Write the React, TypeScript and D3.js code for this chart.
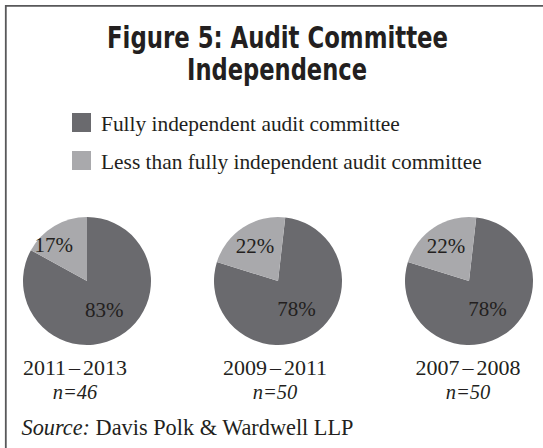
import { useEffect, useRef } from 'react';
import { select, pie, arc, scalePoint } from 'd3';

const periods = ['2011–2013', '2009–2011', '2007–2008'];
const sampleSizes = [46, 50, 50];
const fullyIndependent = [83, 78, 78];
const lessThanFully = [17, 22, 22];
const seriesNames = [
  'Fully independent audit committee',
  'Less than fully independent audit committee',
];
const seriesColors = ['#6a6a6e', '#a9a9ac'];
// rotation of each pie (degrees) as printed in the original
const pieRotation = [0, 6.5, 6.5];
const lightLabelNudge = [-12, 0, 0];
const periodLabelNudge = [-12, -3, -1];

const W = 543;
const H = 448;
const serif = "'Liberation Serif', 'Times New Roman', Times, serif";
const ink = '#231f20';

const App = () => {
  const svgRef = useRef<SVGSVGElement>(null);

  useEffect(() => {
    if (!svgRef.current) return;
    const svg = select(svgRef.current);
    svg.selectAll('*').remove();

    // frame: top and left rules only
    svg
      .append('path')
      .attr('d', `M5.8,${H} V5.8 H${W}`)
      .attr('fill', 'none')
      .attr('stroke', '#58585a')
      .attr('stroke-width', 1.8);

    // title
    const title = svg
      .append('g')
      .attr('font-family', "'Liberation Sans Narrow', 'DejaVu Sans Condensed', 'Roboto Condensed', Arial, sans-serif")
      .attr('font-weight', 'bold')
      .attr('font-size', 31)
      .attr('fill', ink)
      .attr('text-anchor', 'middle');
    title
      .append('text')
      .attr('x', 277.5)
      .attr('y', 47.5)
      .attr('textLength', 341)
      .attr('lengthAdjust', 'spacingAndGlyphs')
      .text('Figure 5: Audit Committee');
    title
      .append('text')
      .attr('x', 277)
      .attr('y', 80)
      .attr('textLength', 180)
      .attr('lengthAdjust', 'spacingAndGlyphs')
      .text('Independence');

    // legend
    const legend = svg
      .append('g')
      .selectAll('g')
      .data(seriesNames)
      .join('g')
      .attr('transform', (_, i) => `translate(72, ${113 + i * 38})`);
    legend
      .append('rect')
      .attr('width', 19)
      .attr('height', 19)
      .attr('fill', (_, i) => seriesColors[i]);
    legend
      .append('text')
      .attr('x', 29)
      .attr('y', 18)
      .attr('font-family', serif)
      .attr('font-size', 21.4)
      .attr('fill', ink)
      .text((d) => d);

    // pies
    const x = scalePoint<string>().domain(periods).range([87, 469]);
    const cy = 281;
    const r = 64;
    const arcGen = arc<any>().innerRadius(0).outerRadius(r);
    const darkLabelArc = arc<any>().innerRadius(34).outerRadius(34);
    const lightLabelArc = arc<any>().innerRadius(42).outerRadius(42);

    periods.forEach((p, i) => {
      const start = (pieRotation[i] * Math.PI) / 180;
      const slices = pie<number>()
        .sort(null)
        .value((d) => d)
        .startAngle(start)
        .endAngle(start + Math.PI * 2)([fullyIndependent[i], lessThanFully[i]]);

      const g = svg
        .append('g')
        .attr('transform', `translate(${x(p)}, ${cy})`);

      g.selectAll('path')
        .data(slices)
        .join('path')
        .attr('d', arcGen)
        .attr('fill', (_, j) => seriesColors[j]);

      g.selectAll('text.pct')
        .data(slices)
        .join('text')
        .attr('class', 'pct')
        .attr('x', (d, j) =>
          j === 0 ? darkLabelArc.centroid(d)[0] : lightLabelArc.centroid(d)[0] + lightLabelNudge[i],
        )
        .attr('y', (d, j) =>
          (j === 0 ? darkLabelArc.centroid(d)[1] : lightLabelArc.centroid(d)[1]) + 7,
        )
        .attr('text-anchor', 'middle')
        .attr('font-family', serif)
        .attr('font-size', 21)
        .attr('fill', ink)
        .text((d) => `${d.data}%`);

      // period label and sample size
      const [a, b] = p.split('–');
      const lx = x(p)! + periodLabelNudge[i];
      const lbl = svg
        .append('text')
        .attr('x', lx)
        .attr('y', 375)
        .attr('text-anchor', 'middle')
        .attr('font-family', serif)
        .attr('font-size', 22)
        .attr('fill', ink);
      lbl.append('tspan').text(a);
      lbl.append('tspan').attr('dx', 3).text('–');
      lbl.append('tspan').attr('dx', 3).text(b);

      svg
        .append('text')
        .attr('x', lx)
        .attr('y', 399)
        .attr('text-anchor', 'middle')
        .attr('font-family', serif)
        .attr('font-style', 'italic')
        .attr('font-size', 20.5)
        .attr('fill', ink)
        .text(`n=${sampleSizes[i]}`);
    });

    // source note
    const src = svg
      .append('text')
      .attr('x', 21.5)
      .attr('y', 435)
      .attr('font-family', serif)
      .attr('font-size', 22.3)
      .attr('fill', ink);
    src.append('tspan').attr('font-style', 'italic').text('Source:');
    src.append('tspan').text(' Davis Polk & Wardwell LLP');
  }, []);

  return (
    <svg
      ref={svgRef}
      width={W}
      height={H}
      style={{ position: 'absolute', left: 0, top: 0, background: '#fff' }}
    />
  );
};

export default App;
